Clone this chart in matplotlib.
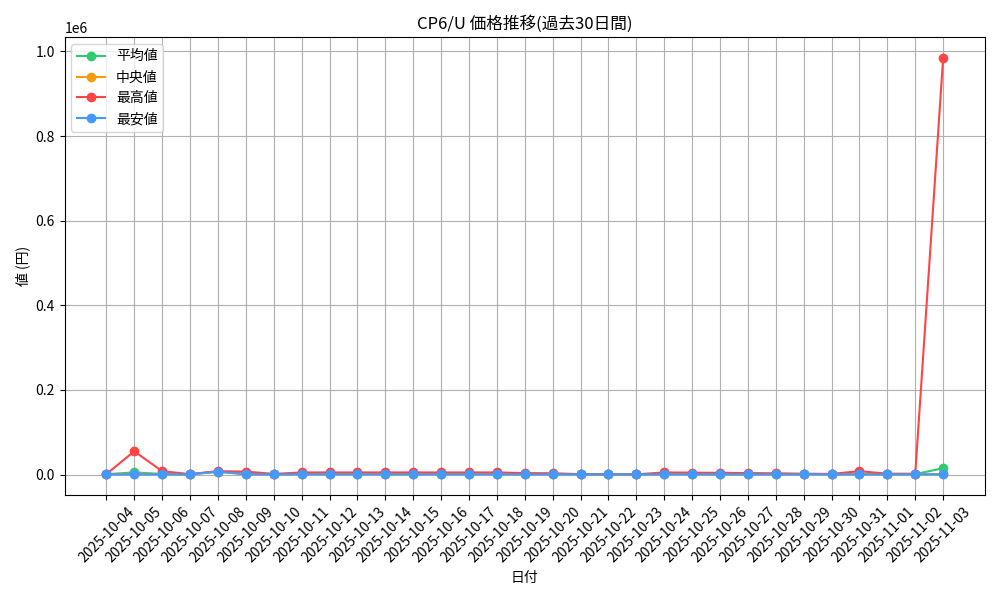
import matplotlib
matplotlib.use("Agg")
import matplotlib.pyplot as plt

plt.rcParams['font.family'] = ['Noto Sans CJK JP', 'DejaVu Sans']

dates = ["2025-10-%02d" % d for d in range(4, 32)] + ["2025-11-01", "2025-11-02", "2025-11-03"]
mean_vals = [1000, 5000, 1500, 800, 7000, 2000, 800, 1500, 1500, 1500, 1500, 1500, 1500, 1500, 1500,
             1200, 1200, 800, 600, 600, 1500, 1500, 1200, 1200, 1000, 1000, 1000, 1500, 1000, 1000, 15000]
median_vals = [800, 1500, 1000, 700, 6500, 1000, 700, 1000, 1000, 1000, 1000, 1000, 1000, 1000, 1000,
               900, 900, 700, 500, 500, 1000, 1000, 900, 900, 800, 800, 800, 900, 800, 800, 1000]
max_vals = [1000, 55000, 8000, 1000, 8000, 7000, 1500, 5000, 5000, 5000, 5000, 5000, 5000, 5000, 5000,
            3500, 3000, 1000, 500, 500, 5000, 4500, 4000, 3500, 3000, 2000, 1500, 8000, 2000, 2000, 985000]
min_vals = [500, 500, 500, 500, 7000, 500, 500, 500, 500, 500, 500, 500, 500, 500, 500,
            500, 500, 500, 300, 300, 500, 500, 500, 500, 500, 500, 500, 500, 500, 500, 500]

fig, ax = plt.subplots(figsize=(10, 6), dpi=100)
ax.plot(dates, mean_vals, marker="o", color="#2ecc71", label="平均値")
ax.plot(dates, median_vals, marker="o", color="#f39c12", label="中央値")
ax.plot(dates, max_vals, marker="o", color="#ff4444", label="最高値")
ax.plot(dates, min_vals, marker="o", color="#4499ff", label="最安値")

ax.set_title("CP6/U 価格推移(過去30日間)")
ax.set_xlabel("日付")
ax.set_ylabel("値 (円)")
ax.legend(loc="upper left")
ax.grid(True)
plt.xticks(rotation=45)
plt.tight_layout()
plt.savefig("out.png")
